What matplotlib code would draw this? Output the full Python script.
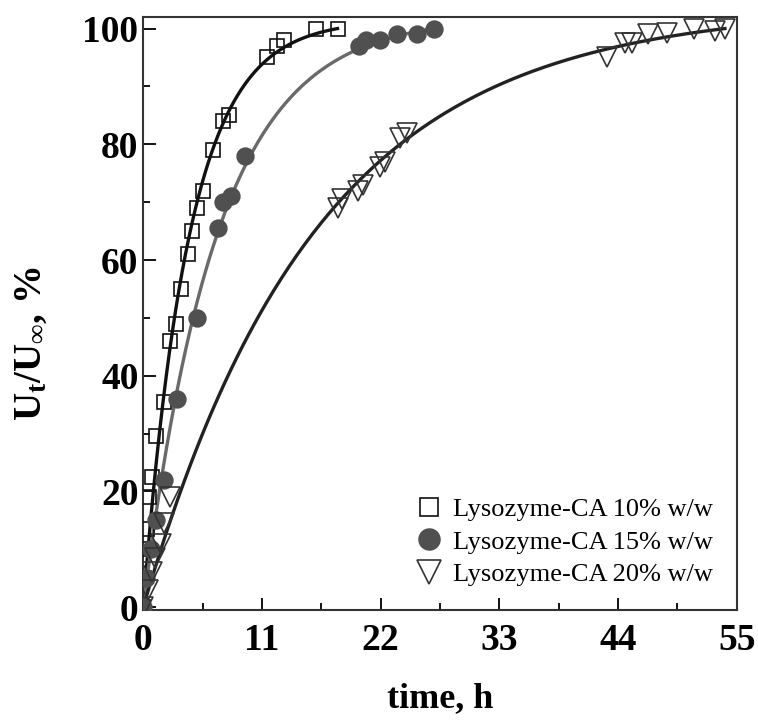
import numpy as np
import matplotlib
matplotlib.use('Agg')
import matplotlib.pyplot as plt
from matplotlib.ticker import MultipleLocator

# release data (time in h, U_t/U_inf in %)
t10 = [0, 0.1, 0.2, 0.35, 0.5, 0.8, 1.2, 1.9, 2.5, 3.0, 3.5, 4.1, 4.5, 5.0, 5.5,
       6.5, 7.4, 7.9, 11.5, 12.4, 13.0, 16.0, 18.0]
u10 = [0, 5, 10, 13.5, 19, 22.5, 29.5, 35.5, 46, 49, 55, 61, 65, 69, 72,
       79, 84, 85, 95, 97, 98, 100, 100]

t15 = [0, 0.3, 0.7, 1.2, 1.9, 3.1, 5.0, 6.9, 7.4, 8.1, 9.4, 20.0, 20.6, 21.9,
       23.5, 25.4, 26.9]
u15 = [0, 5, 10, 15, 22, 36, 50, 65.5, 70, 71, 78, 97, 98, 98, 99, 99, 100]

t20 = [0, 0.4, 0.8, 1.1, 1.6, 1.9, 2.5, 18.0, 18.4, 19.9, 20.4, 21.9, 22.4,
       23.8, 24.4, 43.0, 44.6, 45.3, 46.8, 48.5, 51.0, 53.0, 53.9]
u20 = [0, 3, 6, 8.5, 11, 14.5, 19, 69, 70.5, 72, 73, 76, 77, 81, 82, 95,
       97.5, 97.5, 99, 99.3, 100, 99.5, 100]

labels = ['Lysozyme-CA 10% w/w', 'Lysozyme-CA 15% w/w', 'Lysozyme-CA 20% w/w']


def model(t, k, tmax):
    # first-order release normalised to 100 % at the last sample
    return 100 * (1 - np.exp(-k * t)) / (1 - np.exp(-k * tmax))


def fit_k(t, u):
    t = np.asarray(t, float)
    u = np.asarray(u, float)
    ks = np.linspace(0.01, 0.5, 4901)
    err = [np.sum((u - model(t, k, t.max())) ** 2) for k in ks]
    return ks[int(np.argmin(err))]


plt.rcParams['font.family'] = ['Liberation Serif', 'DejaVu Serif']
plt.rcParams['mathtext.fontset'] = 'custom'
plt.rcParams['mathtext.rm'] = 'Liberation Serif:bold'
plt.rcParams['mathtext.bf'] = 'Liberation Serif:bold'
plt.rcParams['mathtext.it'] = 'Liberation Serif:bold'

fig = plt.figure(figsize=(7.58, 7.22), dpi=100)
ax = fig.add_axes([0.189, 0.155, 0.783, 0.8215])

series = [
    (t10, u10, 's', 'none', '#111111', '#111111', 10, 2.4),
    (t15, u15, 'o', '#505050', '#505050', '#6a6a6a', 12, 2.4),
    (t20, u20, 'v', 'none', '#333333', '#222222', 15, 2.4),
]

for (t, u, m, fc, ec, lc, ms, lw), lab in zip(series, labels):
    k = fit_k(t, u)
    tt = np.linspace(0, max(t), 300)
    ax.plot(tt, model(tt, k, max(t)), color=lc, lw=lw, zorder=2)
    ax.plot(t, u, ls='none', marker=m, ms=ms, mfc=fc, mec=ec, mew=1.2,
            label=lab, zorder=3)

ax.set_xlim(0, 55)
ax.set_ylim(-0.5, 102)
ax.xaxis.set_major_locator(MultipleLocator(11))
ax.xaxis.set_minor_locator(MultipleLocator(5.5))
ax.yaxis.set_major_locator(MultipleLocator(20))
ax.yaxis.set_minor_locator(MultipleLocator(10))
ax.tick_params(which='both', direction='in', top=False, right=False,
               width=1.3, labelsize=27)
ax.tick_params(which='major', length=9)
ax.tick_params(which='minor', length=5)
ax.tick_params(axis='x', pad=9)
for lbl in ax.get_xticklabels() + ax.get_yticklabels():
    lbl.set_fontweight('bold')
for s in ax.spines.values():
    s.set_linewidth(1.5)
    s.set_color('#333333')

ax.set_xlabel('time, h', fontsize=26, fontweight='bold', labelpad=18)
ax.set_ylabel(r'U$_{\mathrm{t}}$/U$_{\infty}$, %', fontsize=28,
              fontweight='bold')
ax.yaxis.set_label_coords(-0.158, 0.45)

leg = ax.legend(loc='lower right', frameon=False, fontsize=19,
                handletextpad=0.3, labelspacing=0.35, borderaxespad=0.5,
                handlelength=1.2)
for h, s in zip(leg.legend_handles, [13, 15, 17]):
    h.set_markersize(s)

fig.savefig('out.png', dpi=100)
